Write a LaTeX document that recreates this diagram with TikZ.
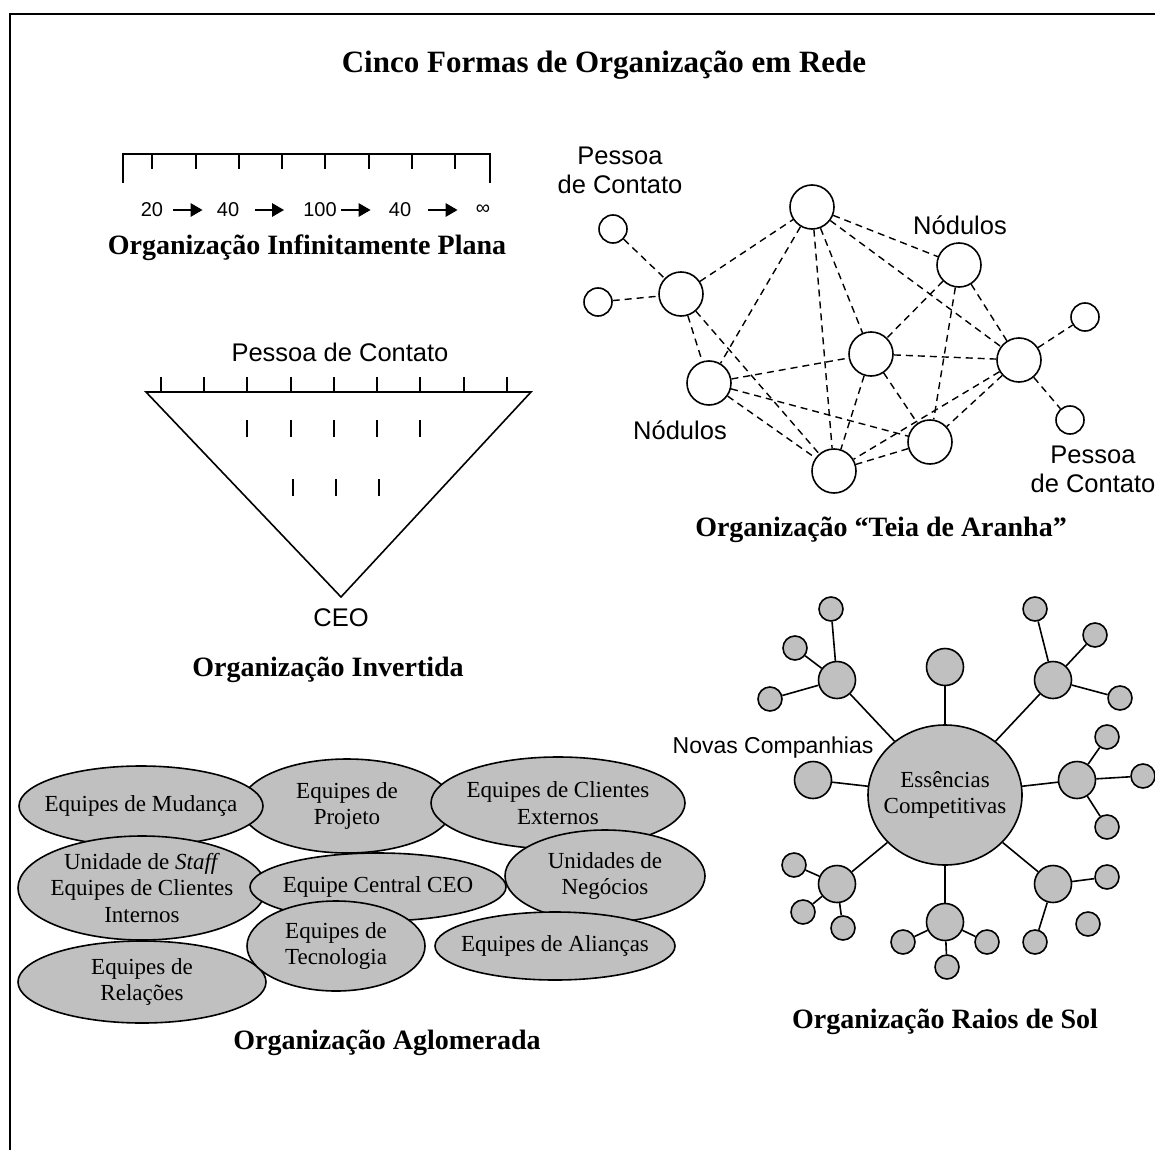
\documentclass[tikz,border=0pt]{standalone}
\usepackage{fontspec}
\setmainfont{Liberation Serif}
\setsansfont{Liberation Sans}
\usetikzlibrary{arrows.meta,shapes.geometric}
\definecolor{fillgray}{RGB}{192,192,192}
\begin{document}
\begin{tikzpicture}[x=1pt,y=-1pt,
  heading/.style={font=\fontsize{31}{35}\selectfont\bfseries},
  caption/.style={font=\fontsize{28}{32}\selectfont\bfseries},
  tag/.style={font=\sffamily\fontsize{25.5}{29}\selectfont, align=center},
  num/.style={font=\sffamily\fontsize{20}{24}\selectfont, inner sep=0pt},
  flow/.style={line width=2.6pt, -{Triangle[length=12pt,width=13pt]}},
  rule/.style={line width=1.6pt},
  webnode/.style={circle, draw, line width=1.6pt, minimum size=44pt, inner sep=0pt, fill=white},
  contact/.style={circle, draw, line width=1.6pt, minimum size=28pt, inner sep=0pt, fill=white},
  web/.style={line width=1.4pt, dash pattern=on 7pt off 5pt},
  teamtext/.style={font=\fontsize{23}{26.5}\selectfont, align=center, inner sep=0pt},
  team/.style={ellipse, draw, fill=fillgray, line width=1.6pt, inner sep=0pt},
  hub/.style={circle, draw, fill=fillgray, line width=1.6pt, minimum size=37pt, inner sep=0pt},
  leaf/.style={circle, draw, fill=fillgray, line width=1.6pt, minimum size=24pt, inner sep=0pt},
  spoke/.style={line width=1.6pt}]

\useasboundingbox (0,0) rectangle (1155,1150);

% frame
\draw[line width=2.6pt] (10,1150) -- (10,14) -- (1155,14);

% heading
\node[heading] (title) at (604,65) {Cinco Formas de Organização em Rede};

% ---------- flat organisation ----------
\draw[rule] (123,183) -- (123,154) -- (490,154) -- (490,183);
\foreach \x in {152,196,239,282,325,369,412,455}
  \draw[rule] (\x,154) -- (\x,169);
\node[num] (n20)  at (152,210) {20};
\node[num] (n40a) at (228,210) {40};
\node[num] (n100) at (320,210) {100};
\node[num] (n40b) at (400,210) {40};
\node[num] (ninf) at (483,210) {∞};
\draw[flow, shorten <=10pt, shorten >=14pt] (n20) -- (n40a);
\draw[flow, shorten <=16pt, shorten >=19pt] (n40a) -- (n100);
\draw[flow, shorten <=4pt,  shorten >=18pt] (n100) -- (n40b);
\draw[flow, shorten <=17pt, shorten >=18pt] (n40b) -- (ninf);
\node[caption] (capflat) at (307,248) {Organização Infinitamente Plana};

% ---------- inverted organisation ----------
\node[tag] (contacttop) at (340,352) {Pessoa de Contato};
\draw[rule, line join=miter] (146,392) -- (531,392) -- (341,597) -- cycle;
\foreach \x in {161,204,247,291,334,377,420,464,507}
  \draw[rule] (\x,377) -- (\x,392);
\foreach \x in {247,291,334,377,420}
  \draw[rule] (\x,420) -- (\x,437);
\foreach \x in {293,336,379}
  \draw[rule] (\x,479) -- (\x,496);
\node[tag] (ceo) at (341,618) {CEO};
\node[caption] (capinv) at (328,670) {Organização Invertida};

% ---------- spider web organisation ----------
\node[tag] (pcleft) at (620,170) {Pessoa\\de Contato};
\node[tag] (ndtop) at (960,225) {Nódulos};
\node[tag] (ndlow) at (680,430) {Nódulos};
\node[tag] (pcright) at (1093,469) {Pessoa\\de Contato};

\node[contact] (p1) at (613,229) {};
\node[contact] (p2) at (598,302) {};
\node[contact] (p3) at (1085,317) {};
\node[contact] (p4) at (1070,420) {};
\node[webnode] (t) at (812,207) {};
\node[webnode] (a) at (681,294) {};
\node[webnode] (d) at (959,265) {};
\node[webnode] (c) at (871,354) {};
\node[webnode] (e) at (1019,360) {};
\node[webnode] (b) at (709,383) {};
\node[webnode] (f) at (930,442) {};
\node[webnode] (g) at (834,471) {};
\foreach \u/\v in {p1/a,p2/a,a/t,a/b,a/g,t/b,t/g,t/c,t/d,t/e,d/c,d/f,d/e,
                   b/c,b/f,b/g,c/e,c/g,c/f,e/g,e/f,f/g,e/p3,e/p4}
  \draw[web] (\u) -- (\v);
\node[caption] (capweb) at (881,530) {Organização “Teia de Aranha”};

% ---------- cluster organisation ----------
\node[team, minimum width=212pt, minimum height=94pt, label={[teamtext]center:Equipes de\\Projeto}] (e2) at (347,806) {};
\node[team, minimum width=254pt, minimum height=92pt, label={[teamtext]center:Equipes de Clientes\\Externos}] (e3) at (558,803) {};
\node[team, minimum width=244pt, minimum height=80pt, label={[teamtext]center:Equipes de Mudança}] (e1) at (141,806) {};
\node[team, minimum width=248pt, minimum height=104pt, label={[teamtext]center:Unidade de \textit{Staff}\\Equipes de Clientes\\Internos}] (e4) at (142,888) {};
\node[team, minimum width=200pt, minimum height=92pt, label={[teamtext]center:Unidades de\\Negócios}] (e6) at (605,876) {};
\node[team, minimum width=256pt, minimum height=68pt, label={[teamtext]center:Equipe Central CEO}] (e5) at (378,887) {};
\node[team, minimum width=240pt, minimum height=68pt, label={[teamtext]center:Equipes de Alianças}] (e9) at (555,946) {};
\node[team, minimum width=248pt, minimum height=82pt, label={[teamtext]center:Equipes de\\Relações}] (e7) at (142,982) {};
\node[team, minimum width=178pt, minimum height=90pt, label={[teamtext]center:Equipes de\\Tecnologia}] (e8) at (336,946) {};
\node[caption] (capclu) at (387,1043) {Organização Aglomerada};

% ---------- sunray organisation ----------
\node[ellipse, draw, fill=fillgray, line width=1.6pt, minimum width=154pt, minimum height=140pt, inner sep=0pt,
      label={[teamtext]center:Essências\\Competitivas}] (core) at (945,795) {};
\node[hub] (hn)  at (945,667) {};
\node[hub] (htl) at (837,680) {};
\node[hub] (htr) at (1053,680) {};
\node[hub] (hl)  at (813,780) {};
\node[hub] (hr)  at (1077,780) {};
\node[hub] (hbl) at (837,884) {};
\node[hub] (hb)  at (945,922) {};
\node[hub] (hbr) at (1053,884) {};
\node[leaf] (tl1) at (831,609) {};
\node[leaf] (tl2) at (795,648) {};
\node[leaf] (tl3) at (770,699) {};
\node[leaf] (tr1) at (1035,609) {};
\node[leaf] (tr2) at (1095,635) {};
\node[leaf] (tr3) at (1120,698) {};
\node[leaf] (r1) at (1107,737) {};
\node[leaf] (r2) at (1143,776) {};
\node[leaf] (r3) at (1107,827) {};
\node[leaf] (bl1) at (794,865) {};
\node[leaf] (bl2) at (803,912) {};
\node[leaf] (bl3) at (843,928) {};
\node[leaf] (b1) at (903,942) {};
\node[leaf] (b2) at (987,942) {};
\node[leaf] (b3) at (947,967) {};
\node[leaf] (br1) at (1107,877) {};
\node[leaf] (br2) at (1035,942) {};
\node[leaf] (br3) at (1088,924) {};
\foreach \u/\v in {core/hn,core/htl,core/htr,core/hl,core/hr,core/hbl,core/hb,core/hbr,
                   htl/tl1,htl/tl2,htl/tl3,htr/tr1,htr/tr2,htr/tr3,hr/r1,hr/r2,hr/r3,
                   hbl/bl1,hbl/bl2,hbl/bl3,hb/b1,hb/b2,hb/b3,hbr/br1,hbr/br2}
  \draw[spoke] (\u) -- (\v);
\node[font=\sffamily\fontsize{23}{27}\selectfont] (novas) at (773,748) {Novas Companhias};
\node[caption] (capsun) at (945,1022) {Organização Raios de Sol};

\end{tikzpicture}
\end{document}
